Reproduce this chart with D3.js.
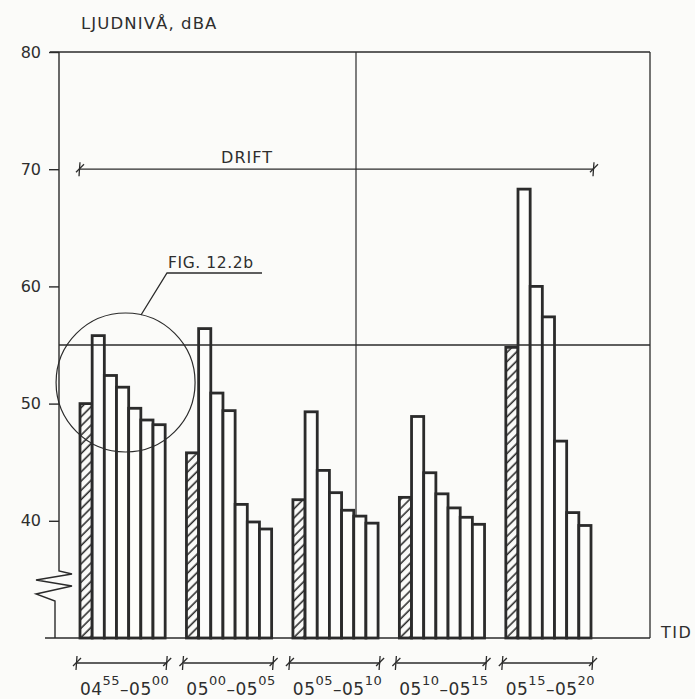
<!DOCTYPE html>
<html>
<head>
<meta charset="utf-8">
<script src="https://cdn.jsdelivr.net/npm/d3@7"></script>
<style>
  html, body { margin: 0; padding: 0; background: #fbfbf9; }
  svg { display: block; }
  text { font-family: "DejaVu Sans", sans-serif; fill: #2e2e2e; }
</style>
</head>
<body>
<svg id="chart" width="695" height="699"></svg>
<script>
// Sound level (dBA) per 5-minute interval; first bar of each interval is the hatched one
const intervals = ["0455", "0500", "0505", "0510", "0515"];
const level0455 = [50.0, 55.8, 52.4, 51.4, 49.6, 48.6, 48.2];
const level0500 = [45.8, 56.4, 50.9, 49.4, 41.4, 39.9, 39.3];
const level0505 = [41.8, 49.3, 44.3, 42.4, 40.9, 40.4, 39.8];
const level0510 = [42.0, 48.9, 44.1, 42.3, 41.1, 40.3, 39.7];
const level0515 = [54.8, 68.3, 60.0, 57.4, 46.8, 40.7, 39.6];
const levels = [level0455, level0500, level0505, level0510, level0515];

// Interval labels: [start hour, start minute, end hour, end minute]
const intervalLabels = [
  ["04", "55", "05", "00"],
  ["05", "00", "05", "05"],
  ["05", "05", "05", "10"],
  ["05", "10", "05", "15"],
  ["05", "15", "05", "20"]
];
const yTicks = [40, 50, 60, 70, 80];
const limitLevel = 55;
const driftLevel = 70;

const ink = "#2b2b2b";
const svg = d3.select("#chart");

const plotLeft = 59, plotRight = 650, plotTop = 52;
const y = d3.scaleLinear().domain([30, 80]).range([638, plotTop]);
const base = y(30);

const x = d3.scaleBand().domain(intervals).range([80, 591]).paddingInner(0.2).paddingOuter(0);
const xi = d3.scaleBand().domain(d3.range(7)).range([0, x.bandwidth()]).padding(0);

// Title above the level axis
svg.append("text").attr("x", 81).attr("y", 29)
  .attr("text-anchor", "start").attr("font-size", 16.5)
  .attr("letter-spacing", 1.1).text("LJUDNIVÅ, dBA");

// Hatching for the first bar in each interval
const defs = svg.append("defs");
defs.append("pattern")
  .attr("id", "hatch")
  .attr("patternUnits", "userSpaceOnUse")
  .attr("width", 8).attr("height", 6.5)
  .attr("patternTransform", "rotate(-45)")
  .append("line")
  .attr("x1", 0).attr("y1", 3).attr("x2", 8).attr("y2", 3)
  .attr("stroke", ink).attr("stroke-width", 1.6);

// Frame: top line, right side, baseline, centre vertical
svg.append("line").attr("x1", 50).attr("x2", plotRight).attr("y1", plotTop).attr("y2", plotTop)
  .attr("stroke", ink).attr("stroke-width", 1.5);
svg.append("line").attr("x1", plotRight).attr("x2", plotRight).attr("y1", plotTop).attr("y2", base)
  .attr("stroke", ink).attr("stroke-width", 1.3);
svg.append("line").attr("x1", 356).attr("x2", 356).attr("y1", plotTop).attr("y2", base)
  .attr("stroke", ink).attr("stroke-width", 1.2);
svg.append("line").attr("x1", 45).attr("x2", plotRight).attr("y1", base).attr("y2", base)
  .attr("stroke", ink).attr("stroke-width", 1.6);

// Y axis with break symbol
const axisPath = d3.path();
axisPath.moveTo(plotLeft, plotTop);
axisPath.lineTo(plotLeft, 571);
axisPath.lineTo(72, 574);
axisPath.lineTo(36, 580);
axisPath.lineTo(72, 586);
axisPath.lineTo(36, 594);
axisPath.lineTo(55, 601);
axisPath.lineTo(55, base);
svg.append("path").attr("d", axisPath.toString())
  .attr("fill", "none").attr("stroke", ink).attr("stroke-width", 1.4);

const yAxis = d3.axisLeft(y).tickValues(yTicks).tickSize(10).tickPadding(8).tickFormat(d3.format("d"));
const ya = svg.append("g").attr("transform", `translate(${plotLeft},0)`).call(yAxis);
ya.select(".domain").remove();
ya.selectAll(".tick line").attr("stroke", ink).attr("stroke-width", 1.4);
ya.selectAll(".tick text").attr("font-size", 16).attr("fill", "#2e2e2e")
  .style("font-family", "'DejaVu Sans', sans-serif");

// Bars
levels.forEach((vals, gi) => {
  const g = svg.append("g").attr("transform", `translate(${x(intervals[gi])},0)`);
  g.selectAll("rect").data(vals).join("rect")
    .attr("x", (d, i) => xi(i))
    .attr("y", d => y(d))
    .attr("width", xi.bandwidth())
    .attr("height", d => base - y(d))
    .attr("fill", (d, i) => i === 0 ? "url(#hatch)" : "#fdfdfb")
    .attr("stroke", ink)
    .attr("stroke-width", 2.8);
});

// 55 dBA reference line
svg.append("line").attr("x1", plotLeft).attr("x2", plotRight)
  .attr("y1", y(limitLevel)).attr("y2", y(limitLevel))
  .attr("stroke", ink).attr("stroke-width", 1.3);

// Span marker with crossed ends
function span(x1, x2, yy, h) {
  svg.append("line").attr("x1", x1).attr("x2", x2).attr("y1", yy).attr("y2", yy)
    .attr("stroke", ink).attr("stroke-width", 1.3);
  [x1, x2].forEach(xx => {
    svg.append("line").attr("x1", xx).attr("x2", xx - 1).attr("y1", yy - h).attr("y2", yy + h)
      .attr("stroke", ink).attr("stroke-width", 1.3);
    svg.append("line").attr("x1", xx - 4).attr("x2", xx + 4).attr("y1", yy + 3).attr("y2", yy - 5)
      .attr("stroke", ink).attr("stroke-width", 1.3);
  });
}

// DRIFT span across all intervals
const firstX = x(intervals[0]);
const lastX = x(intervals[intervals.length - 1]) + x.bandwidth();
span(firstX, lastX + 3, y(driftLevel), 7);
svg.append("text").attr("x", 247).attr("y", y(driftLevel) - 6)
  .attr("text-anchor", "middle").attr("font-size", 16).attr("letter-spacing", 1).text("DRIFT");

// Circle around the first interval with its reference label
const cx = x(intervals[0]) + x.bandwidth() / 2 + 3;
const cy = y(51.8);
svg.append("circle").attr("cx", cx).attr("cy", cy).attr("r", 69.5)
  .attr("fill", "none").attr("stroke", ink).attr("stroke-width", 1.2);
svg.append("path").attr("d", `M141,315 L167,273 L262,273`)
  .attr("fill", "none").attr("stroke", ink).attr("stroke-width", 1.3);
svg.append("text").attr("x", 168).attr("y", 268).attr("font-size", 15.5)
  .attr("letter-spacing", 0.6).text("FIG. 12.2b");

// Axis label for time
svg.append("text").attr("x", 661).attr("y", 638).attr("font-size", 16)
  .attr("letter-spacing", 1.5).text("TID");

// Interval spans and labels below the axis
intervals.forEach((k, gi) => {
  const x0 = x(k), x1 = x0 + x.bandwidth();
  span(x0 - 3, x1 + 2, 663, 7);
  const p = intervalLabels[gi];
  const t = svg.append("text").attr("x", (x0 + x1) / 2 + 2).attr("y", 695)
    .attr("text-anchor", "middle").attr("font-size", 17).attr("letter-spacing", 0.5);
  t.append("tspan").text(p[0]);
  t.append("tspan").attr("dy", -10).attr("font-size", 13).text(p[1]);
  t.append("tspan").attr("dy", 10).text("–" + p[2]);
  t.append("tspan").attr("dy", -10).attr("font-size", 13).text(p[3]);
});
</script>
</body>
</html>
